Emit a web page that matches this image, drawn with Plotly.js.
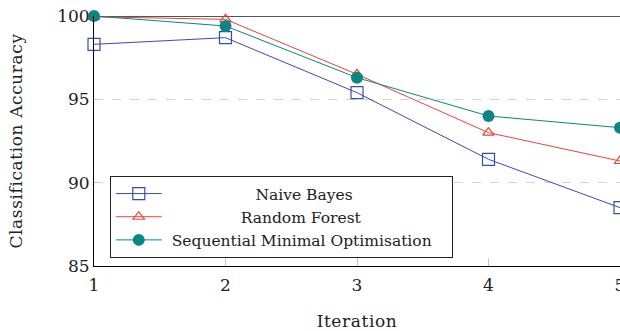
<!DOCTYPE html>
<html>
<head>
<meta charset="utf-8">
<script src="https://cdn.plot.ly/plotly-3.0.1.min.js"></script>
<style>
html,body{margin:0;padding:0;background:#fff;}
#chart{width:620px;height:331px;}
#chart text.xtitle, #chart text.ytitle{letter-spacing:0.6px;}
</style>
</head>
<body>
<div id="chart"></div>
<script>
var iterations = [1, 2, 3, 4, 5];
var naiveBayes = [98.3, 98.7, 95.4, 91.4, 88.5];
var randomForest = [99.95, 99.8, 96.5, 93.0, 91.3];
var smo = [100.0, 99.4, 96.3, 94.0, 93.3];
var seriesNames = ["Naive Bayes", "Random Forest", "Sequential Minimal Optimisation"];
var yTicks = [85, 90, 95, 100];
var xTicks = [1, 2, 3, 4, 5];

var FONT = "'DejaVu Serif', 'Liberation Serif', serif";
var LEGEND_SIZE = 15.5;

// center legend labels by padding with non-breaking spaces
var cv = document.createElement("canvas").getContext("2d");
cv.font = LEGEND_SIZE + "px " + FONT;
var widths = seriesNames.map(function(s){ return cv.measureText(s).width; });
var wMax = Math.max.apply(null, widths);
var wSp = cv.measureText("\u00A0").width || 4;
var labels = seriesNames.map(function(s, i){
  var n = Math.round((wMax - widths[i]) / 2 / wSp);
  return "\u00A0".repeat(n + 1) + s + "\u00A0".repeat(n + 2);
});

var blue = "#3a4bb0", red = "#e8453c", teal = "#0a8782";

var traces = [
  {x: iterations, y: naiveBayes, name: labels[0], legendgroup: "a", mode: "lines+markers",
   line: {color: blue, width: 1}, marker: {symbol: "square-open", size: 12, color: blue, line: {width: 1.2}}, cliponaxis: false},
  {x: iterations, y: randomForest, name: labels[1], legendgroup: "b", mode: "lines+markers",
   line: {color: red, width: 1}, marker: {symbol: "triangle-up-open", size: 10, color: red, line: {width: 1.2}}, cliponaxis: false},
  {x: iterations, y: smo, name: labels[2], legendgroup: "c", mode: "lines+markers",
   line: {color: teal, width: 1}, marker: {symbol: "circle", size: 12, color: teal}, cliponaxis: false}
];

var layout = {
  width: 620, height: 331,
  margin: {l: 94, r: 0, t: 16, b: 65},
  paper_bgcolor: "#fff", plot_bgcolor: "#fff",
  font: {family: FONT, color: "#222", size: 16},
  showlegend: true,
  legend: {
    x: 0.03, y: 0.36, xanchor: "left", yanchor: "top",
    bgcolor: "#fff", bordercolor: "#222", borderwidth: 1,
    font: {family: FONT, size: LEGEND_SIZE, color: "#222"},
    traceorder: "grouped", tracegroupgap: 0, itemwidth: 46
  },
  xaxis: {
    range: [1, 5], tickvals: xTicks, ticktext: xTicks.map(String),
    showgrid: false, zeroline: false,
    showline: true, linecolor: "#000", linewidth: 1,
    ticks: "inside", ticklen: 8, tickcolor: "#c8c8c8", tickwidth: 1,
    ticklabelstandoff: 4, ticklabeloverflow: "allow",
    tickfont: {family: FONT, size: 17, color: "#222"},
    title: {text: "Iteration", font: {family: FONT, size: 17, color: "#222"}, standoff: 20}
  },
  yaxis: {
    range: [85, 100], tickvals: yTicks, ticktext: yTicks.map(String),
    showgrid: true, gridcolor: "#d4d4d4", griddash: "dash", gridwidth: 1,
    zeroline: false,
    showline: true, linecolor: "#000", linewidth: 1,
    ticks: "inside", ticklen: 6, tickcolor: "#c8c8c8", tickwidth: 1,
    tickfont: {family: FONT, size: 17, color: "#222"},
    title: {text: "Classification Accuracy", font: {family: FONT, size: 17, color: "#222"}, standoff: 30}
  },
  shapes: [
    {type: "line", xref: "paper", yref: "y", x0: 0, x1: 1, y0: 100, y1: 100,
     line: {color: "#555", width: 2}, layer: "below"}
  ]
};

Plotly.newPlot("chart", traces, layout, {displayModeBar: false, staticPlot: true});
</script>
</body>
</html>
